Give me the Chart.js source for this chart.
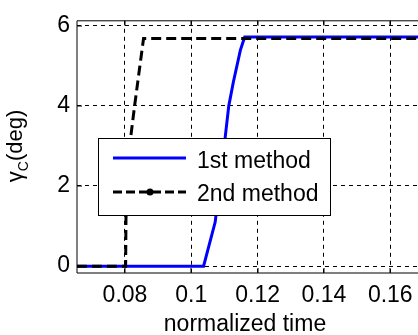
<!DOCTYPE html>
<html>
<head>
<meta charset="utf-8">
<script src="https://cdn.jsdelivr.net/npm/chart.js@4"></script>
<style>
  html, body { margin: 0; padding: 0; background: #fff; overflow: hidden; }
  #wrap { position: relative; width: 422px; height: 335px; }
</style>
</head>
<body>
<div id="wrap"><canvas id="chart"></canvas></div>
<script>
// values
const time1 = [0.0655, 0.1037, 0.1072, 0.1102, 0.1113, 0.1127, 0.1148, 0.1161, 0.1700];
const gamma1 = [0, 0, 1.1, 3.2, 4.0, 4.6, 5.39, 5.72, 5.72];
const time2 = [0.0655, 0.0802, 0.0803, 0.0817, 0.0829, 0.0845, 0.0856, 0.1700];
const gamma2 = [0, 0, 1.2, 3.2, 4.0, 5.0, 5.68, 5.68];
const xTicks = [0.08, 0.1, 0.12, 0.14, 0.16];
const yTicks = [0, 2, 4, 6];
const seriesNames = ['1st method', '2nd method'];
const xTitle = 'normalized time';

const FONT = '"Liberation Sans", Arial, sans-serif';

const toPoints = (xs, ys) => xs.map((x, i) => ({ x: x, y: ys[i] }));

// frame, inward ticks, titles and legend (matlab look)
const matlabDecor = {
    id: 'matlabDecor',
    afterDraw(chart) {
        const ctx = chart.ctx;
        const a = chart.chartArea;
        const xs = chart.scales.x, ys = chart.scales.y;
        ctx.save();
        ctx.strokeStyle = '#000';
        ctx.lineWidth = 1;
        ctx.beginPath();
        ctx.moveTo(a.left, a.bottom); ctx.lineTo(a.right, a.bottom);
        ctx.moveTo(a.left, a.bottom); ctx.lineTo(a.left, a.top);
        ctx.moveTo(a.left, a.top); ctx.lineTo(a.right, a.top);
        xTicks.forEach(v => {
            const px = Math.round(xs.getPixelForValue(v));
            ctx.moveTo(px, a.bottom); ctx.lineTo(px, a.bottom - 5);
            ctx.moveTo(px, a.top); ctx.lineTo(px, a.top + 5);
        });
        yTicks.forEach(v => {
            const py = Math.round(ys.getPixelForValue(v));
            ctx.moveTo(a.left, py); ctx.lineTo(a.left + 5, py);
        });
        ctx.stroke();

        // x title
        ctx.fillStyle = '#000';
        ctx.font = '23px ' + FONT;
        ctx.textAlign = 'center';
        ctx.textBaseline = 'alphabetic';
        ctx.fillText(xTitle, 245, 331);

        // y title with subscript
        ctx.save();
        ctx.translate(22, 146);
        ctx.rotate(-Math.PI / 2);
        ctx.textAlign = 'left';
        ctx.font = '22px ' + FONT;
        const wG = ctx.measureText('\u03b3').width;
        const wD = ctx.measureText('(deg)').width;
        ctx.font = '14px ' + FONT;
        const wC = ctx.measureText('C').width;
        let x0 = -(wG + wC + wD) / 2;
        ctx.font = '22px ' + FONT;
        ctx.fillText('\u03b3', x0, 0);
        ctx.font = '14px ' + FONT;
        ctx.fillText('C', x0 + wG, 6);
        ctx.font = '22px ' + FONT;
        ctx.fillText('(deg)', x0 + wG + wC, 0);
        ctx.restore();

        // legend box
        const bx = 98, by = 138, bw = 232, bh = 77;
        ctx.fillStyle = '#fff';
        ctx.fillRect(bx, by, bw, bh);
        ctx.strokeStyle = '#000';
        ctx.lineWidth = 1;
        ctx.strokeRect(bx + 0.5, by + 0.5, bw, bh);

        ctx.lineWidth = 3;
        ctx.strokeStyle = '#0000ff';
        ctx.beginPath(); ctx.moveTo(113, 158); ctx.lineTo(186, 158); ctx.stroke();

        ctx.strokeStyle = '#000';
        ctx.setLineDash([9, 4]);
        ctx.beginPath(); ctx.moveTo(113, 192); ctx.lineTo(186, 192); ctx.stroke();
        ctx.setLineDash([]);
        ctx.fillStyle = '#000';
        ctx.beginPath(); ctx.arc(150, 192, 3.5, 0, Math.PI * 2); ctx.fill();

        ctx.font = '23px ' + FONT;
        ctx.textAlign = 'left';
        ctx.fillText(seriesNames[0], 197, 168);
        ctx.fillText(seriesNames[1], 197, 201);
        ctx.restore();
    }
};

new Chart(document.getElementById('chart'), {
    type: 'line',
    data: {
        datasets: [{
            label: seriesNames[0],
            data: toPoints(time1, gamma1),
            borderColor: '#0000ff',
            borderWidth: 3,
            pointRadius: 0,
            tension: 0,
            order: 1
        }, {
            label: seriesNames[1],
            data: toPoints(time2, gamma2),
            borderColor: '#000',
            borderWidth: 3,
            borderDash: [10, 5],
            pointRadius: 0,
            tension: 0,
            order: 0
        }]
    },
    options: {
        responsive: true,
        maintainAspectRatio: false,
        animation: false,
        layout: { padding: { top: 15, right: 0, left: 0, bottom: 0 } },
        plugins: { legend: { display: false }, tooltip: { enabled: false } },
        scales: {
            x: {
                type: 'linear',
                min: 0.06553,
                max: 0.16957,
                afterBuildTicks: s => { s.ticks = xTicks.map(v => ({ value: v })); },
                afterFit: s => { s.height = 62; },
                grid: { color: '#000', lineWidth: 1, drawTicks: false },
                border: { display: false, dash: [4, 4] },
                ticks: {
                    padding: 9,
                    color: '#000',
                    font: { family: FONT, size: 23 },
                    maxRotation: 0,
                    callback: v => String(Number(v.toFixed(2)))
                }
            },
            y: {
                min: -0.171,
                max: 6.122,
                afterBuildTicks: s => { s.ticks = yTicks.map(v => ({ value: v })); },
                afterFit: s => { s.width = 77; },
                grid: { color: '#000', lineWidth: 1, drawTicks: false },
                border: { display: false, dash: [4, 4] },
                ticks: {
                    padding: 7,
                    color: '#000',
                    font: { family: FONT, size: 23 }
                }
            }
        }
    },
    plugins: [matlabDecor]
});
</script>
</body>
</html>
